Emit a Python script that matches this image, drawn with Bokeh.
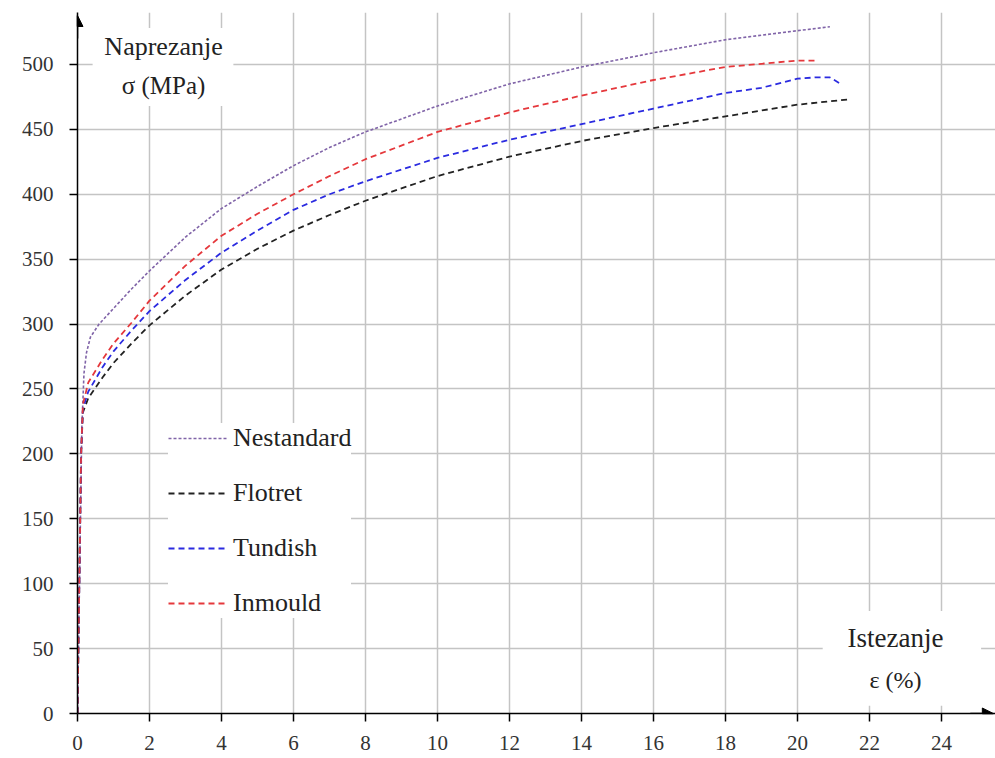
from bokeh.plotting import figure
from bokeh.models import (Range1d, Legend, LegendItem, Label, BoxAnnotation, Arrow,
                          NormalHead, FixedTicker)
from bokeh.embed import file_html
from bokeh.resources import INLINE

# ---- data ----
nest_x = [0, 0.06, 0.12, 0.18, 0.25, 0.36, 0.6, 1, 1.5, 2, 3, 4, 5, 6, 7, 8, 10, 12, 14, 16, 18, 20, 20.9]
nest_y = [0, 110, 220, 262, 278, 290, 300, 312, 327, 341, 367, 389, 406, 422, 436, 448, 468, 485, 498, 509, 519, 526, 529]

flot_x = [0, 0.05, 0.1, 0.15, 0.3, 0.7, 1, 1.5, 2, 3, 4, 5, 6, 7, 8, 10, 12, 14, 16, 18, 20, 21.4]
flot_y = [0, 100, 200, 232, 243, 259, 270, 285, 299, 322, 342, 358, 372, 384, 395, 414, 429, 441, 451, 460, 469, 473]

tund_x = [0, 0.05, 0.1, 0.15, 0.3, 0.7, 1, 1.5, 2, 3, 4, 5, 6, 7, 8, 10, 12, 14, 16, 18, 19, 20, 20.5, 20.9, 21.2]
tund_y = [0, 100, 200, 235, 248, 267, 279, 295, 310, 334, 355, 372, 388, 400, 410, 428, 442, 454, 466, 478, 482, 489, 490, 490, 485]

inm_x = [0, 0.05, 0.1, 0.15, 0.3, 0.7, 1, 1.5, 2, 3, 4, 5, 6, 7, 8, 10, 12, 14, 16, 18, 20, 20.5]
inm_y = [0, 100, 200, 238, 255, 273, 285, 301, 318, 345, 368, 385, 400, 414, 427, 448, 463, 476, 488, 498, 503, 503]

series_names = ["Nestandard", "Flotret", "Tundish", "Inmould"]
x_ticks = [0, 2, 4, 6, 8, 10, 12, 14, 16, 18, 20, 22, 24]
y_ticks = [0, 50, 100, 150, 200, 250, 300, 350, 400, 450, 500]

SERIF = "Liberation Serif"

p = figure(width=995, height=758, output_backend="svg", toolbar_location=None,
           x_range=Range1d(0, 25.5), y_range=Range1d(0, 540),
           min_border_left=77, min_border_right=0, min_border_top=12, min_border_bottom=45)
p.outline_line_color = None
p.background_fill_color = "white"

# axes
for ax in (p.xaxis[0], p.yaxis[0]):
    ax.axis_line_color = "black"
    ax.axis_line_width = 1.5
    ax.major_tick_line_color = "black"
    ax.major_tick_line_width = 1.5
    ax.major_tick_out = 8
    ax.major_tick_in = 0
    ax.minor_tick_line_color = None
    ax.major_label_text_font = SERIF
    ax.major_label_text_font_size = "21px"
    ax.major_label_text_color = "#333333"
p.xaxis[0].ticker = FixedTicker(ticks=x_ticks)
p.yaxis[0].ticker = FixedTicker(ticks=y_ticks)
p.xaxis[0].major_label_standoff = 14
p.yaxis[0].major_label_standoff = 16

p.xgrid[0].ticker = FixedTicker(ticks=x_ticks[1:])
p.ygrid[0].ticker = FixedTicker(ticks=y_ticks[1:])
for g in (p.xgrid[0], p.ygrid[0]):
    g.grid_line_color = "#c4c4c4"
    g.grid_line_width = 1.5

# curves
r_nest = p.line(nest_x, nest_y, line_color="#8064a8", line_width=1.6, line_dash="3 2")
r_flot = p.line(flot_x, flot_y, line_color="#222222", line_width=1.8, line_dash="6 4")
r_tund = p.line(tund_x, tund_y, line_color="#2b2be0", line_width=1.8, line_dash="6 4")
r_inm = p.line(inm_x, inm_y, line_color="#e5383c", line_width=1.8, line_dash="6 4")

# white boxes behind axis titles
p.add_layout(BoxAnnotation(left=0.42, right=4.33, bottom=468, top=528,
                           fill_color="white", fill_alpha=1, line_color=None))
p.add_layout(BoxAnnotation(left=20.7, right=25.1, bottom=6, top=79,
                           fill_color="white", fill_alpha=1, line_color=None))

# axis titles
p.add_layout(Label(x=2.39, y=514, text="Naprezanje", text_font=SERIF, text_font_size="26px",
                   text_color="#222222", text_align="center", text_baseline="middle"))
p.add_layout(Label(x=2.39, y=484, text="σ (MPa)", text_font=SERIF, text_font_size="25px",
                   text_color="#222222", text_align="center", text_baseline="middle"))
p.add_layout(Label(x=22.72, y=58.5, text="Istezanje", text_font=SERIF, text_font_size="27px",
                   text_color="#222222", text_align="center", text_baseline="middle"))
p.add_layout(Label(x=22.72, y=26, text="ε (%)", text_font=SERIF, text_font_size="24px",
                   text_color="#222222", text_align="center", text_baseline="middle"))

# axis arrows
p.add_layout(Arrow(end=NormalHead(size=11, fill_color="black", line_color="black"),
                   x_start=0, y_start=520, x_end=0, y_end=537.7, line_color="black", line_width=1.5))
p.add_layout(Arrow(end=NormalHead(size=11, fill_color="black", line_color="black"),
                   x_start=24.8, y_start=0, x_end=25.44, y_end=0, line_color="black", line_width=1.5))

# legend
legend = Legend(items=[LegendItem(label=series_names[0], renderers=[r_nest]),
                       LegendItem(label=series_names[1], renderers=[r_flot]),
                       LegendItem(label=series_names[2], renderers=[r_tund]),
                       LegendItem(label=series_names[3], renderers=[r_inm])],
                location=(91, 95), orientation="vertical",
                label_text_font=SERIF, label_text_font_size="26px", label_text_color="#222222",
                glyph_width=59, glyph_height=20, label_standoff=6, label_height=20,
                spacing=25, padding=12, margin=0,
                border_line_color=None, background_fill_color="white", background_fill_alpha=1)
p.add_layout(legend)

open("out.html", "w").write(file_html(p, INLINE))
